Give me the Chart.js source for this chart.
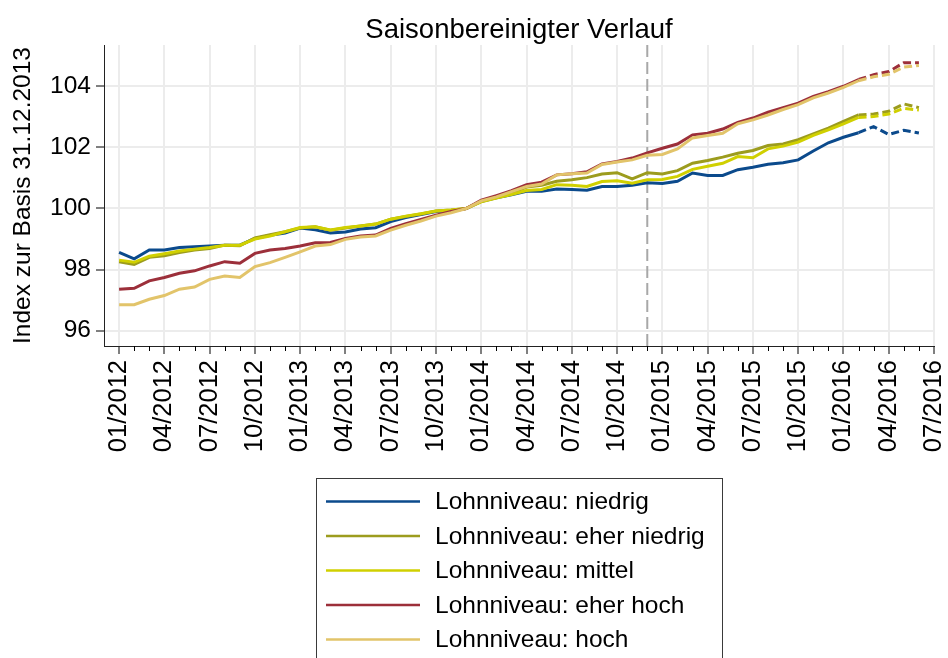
<!DOCTYPE html>
<html><head><meta charset="utf-8">
<script src="https://cdn.jsdelivr.net/npm/chart.js@4"></script>
<style>html,body{margin:0;padding:0;background:#fff}#wrap{width:948px;height:658px}canvas{display:block}</style>
</head><body>
<div id="wrap"><canvas id="c" width="948" height="658"></canvas></div>
<script>
// Months 01/2012 .. 06/2016 (x index 0..53)
const months = ["01/2012","02/2012","03/2012","04/2012","05/2012","06/2012","07/2012","08/2012","09/2012","10/2012","11/2012","12/2012",
"01/2013","02/2013","03/2013","04/2013","05/2013","06/2013","07/2013","08/2013","09/2013","10/2013","11/2013","12/2013",
"01/2014","02/2014","03/2014","04/2014","05/2014","06/2014","07/2014","08/2014","09/2014","10/2014","11/2014","12/2014",
"01/2015","02/2015","03/2015","04/2015","05/2015","06/2015","07/2015","08/2015","09/2015","10/2015","11/2015","12/2015",
"01/2016","02/2016","03/2016","04/2016","05/2016","06/2016"];
const tickLabels = ["01/2012","04/2012","07/2012","10/2012","01/2013","04/2013","07/2013","10/2013","01/2014","04/2014","07/2014","10/2014","01/2015","04/2015","07/2015","10/2015","01/2016","04/2016","07/2016"];
const yTicks = [96, 98, 100, 102, 104];

const niedrig = [98.56,98.35,98.64,98.64,98.72,98.75,98.77,98.80,98.80,99.02,99.12,99.20,
99.36,99.30,99.20,99.23,99.33,99.37,99.57,99.70,99.80,99.90,99.93,100.00,
100.23,100.35,100.45,100.56,100.56,100.64,100.62,100.60,100.72,100.72,100.76,100.84,
100.82,100.89,101.16,101.08,101.08,101.27,101.35,101.45,101.50,101.59,101.88,102.15,
102.33,102.48,102.68,102.42,102.56,102.47];
const eherNiedrig = [98.26,98.17,98.40,98.45,98.56,98.64,98.69,98.80,98.78,99.04,99.14,99.24,
99.36,99.40,99.29,99.36,99.43,99.49,99.65,99.74,99.82,99.92,99.95,100.00,
100.24,100.36,100.50,100.70,100.76,100.89,100.94,101.01,101.13,101.17,100.97,101.17,
101.13,101.24,101.48,101.57,101.68,101.81,101.90,102.06,102.11,102.25,102.44,102.63,
102.85,103.06,103.09,103.18,103.42,103.30];
const mittel = [98.31,98.24,98.44,98.52,98.61,98.67,98.72,98.80,98.80,99.00,99.10,99.24,
99.38,99.40,99.30,99.38,99.43,99.49,99.65,99.75,99.83,99.92,99.95,100.00,
100.22,100.34,100.46,100.59,100.62,100.78,100.76,100.72,100.88,100.91,100.83,100.94,
100.95,101.05,101.28,101.38,101.48,101.70,101.66,101.95,102.04,102.17,102.39,102.57,
102.77,102.98,103.01,103.09,103.28,103.22];
const eherHoch = [97.36,97.39,97.63,97.74,97.88,97.96,98.12,98.26,98.21,98.53,98.64,98.69,
98.77,98.88,98.89,99.02,99.10,99.13,99.35,99.50,99.64,99.78,99.90,100.00,
100.27,100.42,100.58,100.78,100.86,101.10,101.14,101.20,101.46,101.54,101.65,101.82,
101.97,102.11,102.41,102.46,102.60,102.82,102.96,103.15,103.30,103.45,103.67,103.82,
104.00,104.22,104.38,104.48,104.77,104.77];
const hoch = [96.85,96.85,97.03,97.15,97.36,97.43,97.68,97.79,97.74,98.10,98.23,98.40,
98.58,98.77,98.82,98.99,99.07,99.10,99.29,99.45,99.59,99.75,99.86,100.00,
100.25,100.38,100.55,100.72,100.80,101.10,101.14,101.16,101.44,101.52,101.59,101.74,
101.77,101.95,102.31,102.39,102.46,102.77,102.90,103.06,103.24,103.40,103.62,103.78,
103.96,104.18,104.31,104.39,104.63,104.68];

const seriesNames = ["Lohnniveau: niedrig","Lohnniveau: eher niedrig","Lohnniveau: mittel","Lohnniveau: eher hoch","Lohnniveau: hoch"];
const seriesColors = ["#0b4a8c","#9c9c1e","#d0d000","#9c2f3a","#e2c46a"];
const seriesValues = [niedrig, eherNiedrig, mittel, eherHoch, hoch];
const forecastFrom = "02/2016";   // dashed after this month
const markerMonth = "12/2014";    // vertical dashed line
const chartTitle = "Saisonbereinigter Verlauf";
const yTitle = "Index zur Basis 31.12.2013";

const FONT = '"Liberation Sans", Arial, Helvetica, sans-serif';
const forecastIdx = months.indexOf(forecastFrom);
const markerIdx = months.indexOf(markerMonth);

const datasets = seriesValues.map((vals, k) => ({
  label: seriesNames[k],
  data: vals.map((v, i) => ({x: i, y: v})),
  borderColor: seriesColors[k],
  backgroundColor: seriesColors[k],
  borderWidth: 3,
  pointRadius: 0,
  tension: 0,
  fill: false,
  order: seriesValues.length - k,
  segment: { borderDash: ctx => ctx.p0DataIndex >= forecastIdx ? [8, 4] : undefined }
}));

const extras = {
  id: 'extras',
  beforeDatasetsDraw(chart) {
    const {ctx, chartArea, scales} = chart;
    const x = scales.x.getPixelForValue(markerIdx);
    ctx.save();
    ctx.strokeStyle = '#a8a8a8';
    ctx.lineWidth = 2;
    ctx.setLineDash([12, 5]);
    ctx.beginPath();
    ctx.moveTo(x, chartArea.top);
    ctx.lineTo(x, chartArea.bottom);
    ctx.stroke();
    ctx.restore();
  },
  afterDraw(chart) {
    const {ctx, chartArea, scales} = chart;
    ctx.save();
    // minor monthly ticks
    ctx.strokeStyle = '#000';
    ctx.lineWidth = 1;
    for (let i = 0; i <= months.length; i++) {
      if (i % 3 === 0) continue;
      const x = Math.round(scales.x.getPixelForValue(i)) + 0.5;
      ctx.beginPath();
      ctx.moveTo(x, chartArea.bottom);
      ctx.lineTo(x, chartArea.bottom + 5);
      ctx.stroke();
    }
    // title
    ctx.fillStyle = '#000';
    ctx.font = '27.5px ' + FONT;
    ctx.textAlign = 'center';
    ctx.textBaseline = 'alphabetic';
    ctx.fillText(chartTitle, (chartArea.left + chartArea.right) / 2, 38);
    // legend box
    ctx.strokeStyle = '#3a3a3a';
    ctx.lineWidth = 1;
    ctx.strokeRect(316.5, 478.5, 406, 220);
    chart.data.datasets.forEach((ds, i) => {
      const y = 501.5 + i * 34.5;
      ctx.strokeStyle = ds.borderColor;
      ctx.lineWidth = 2.5;
      ctx.setLineDash([]);
      ctx.beginPath();
      ctx.moveTo(326, y);
      ctx.lineTo(420, y);
      ctx.stroke();
      ctx.fillStyle = '#000';
      ctx.font = '24.5px ' + FONT;
      ctx.textAlign = 'left';
      ctx.textBaseline = 'middle';
      ctx.fillText(ds.label, 435, y + 1);
    });
    ctx.restore();
  }
};

new Chart(document.getElementById('c'), {
  type: 'line',
  data: { datasets },
  plugins: [extras],
  options: {
    responsive: false,
    devicePixelRatio: 1,
    animation: false,
    layout: { padding: { top: 45, right: 14, bottom: 197, left: 0 } },
    plugins: { legend: { display: false }, tooltip: { enabled: false }, title: { display: false } },
    scales: {
      x: {
        type: 'linear',
        min: -1,
        max: tickLabels.length * 3 - 3,
        afterBuildTicks: axis => { axis.ticks = tickLabels.map((_, i) => ({ value: i * 3 })); },
        afterFit: axis => { axis.height = 115; axis.paddingRight = 0; axis.paddingLeft = 0; },
        ticks: {
          autoSkip: false,
          minRotation: 90,
          maxRotation: 90,
          padding: 6,
          color: '#000',
          font: { family: FONT, size: 25.5 },
          callback: v => tickLabels[Math.round(v / 3)]
        },
        grid: { color: '#ececec', lineWidth: 2, tickColor: '#000', tickWidth: 1, tickLength: 8, drawTicks: true },
        border: { display: true, color: '#222', width: 1 }
      },
      y: {
        type: 'linear',
        min: 95.5,
        max: 105.35,
        afterBuildTicks: axis => { axis.ticks = yTicks.map(v => ({ value: v })); },
        afterFit: axis => { axis.width = 104; },
        ticks: {
          padding: 5,
          color: '#000',
          font: { family: FONT, size: 24.5 },
          callback: v => String(v)
        },
        grid: { color: '#ececec', lineWidth: 2, tickColor: '#000', tickWidth: 1, tickLength: 8, drawTicks: true },
        border: { display: true, color: '#222', width: 1 },
        title: { display: true, text: yTitle, color: '#000', font: { family: FONT, size: 24.5 }, padding: { top: 9, bottom: 0 } }
      }
    }
  }
});
</script>
</body></html>
